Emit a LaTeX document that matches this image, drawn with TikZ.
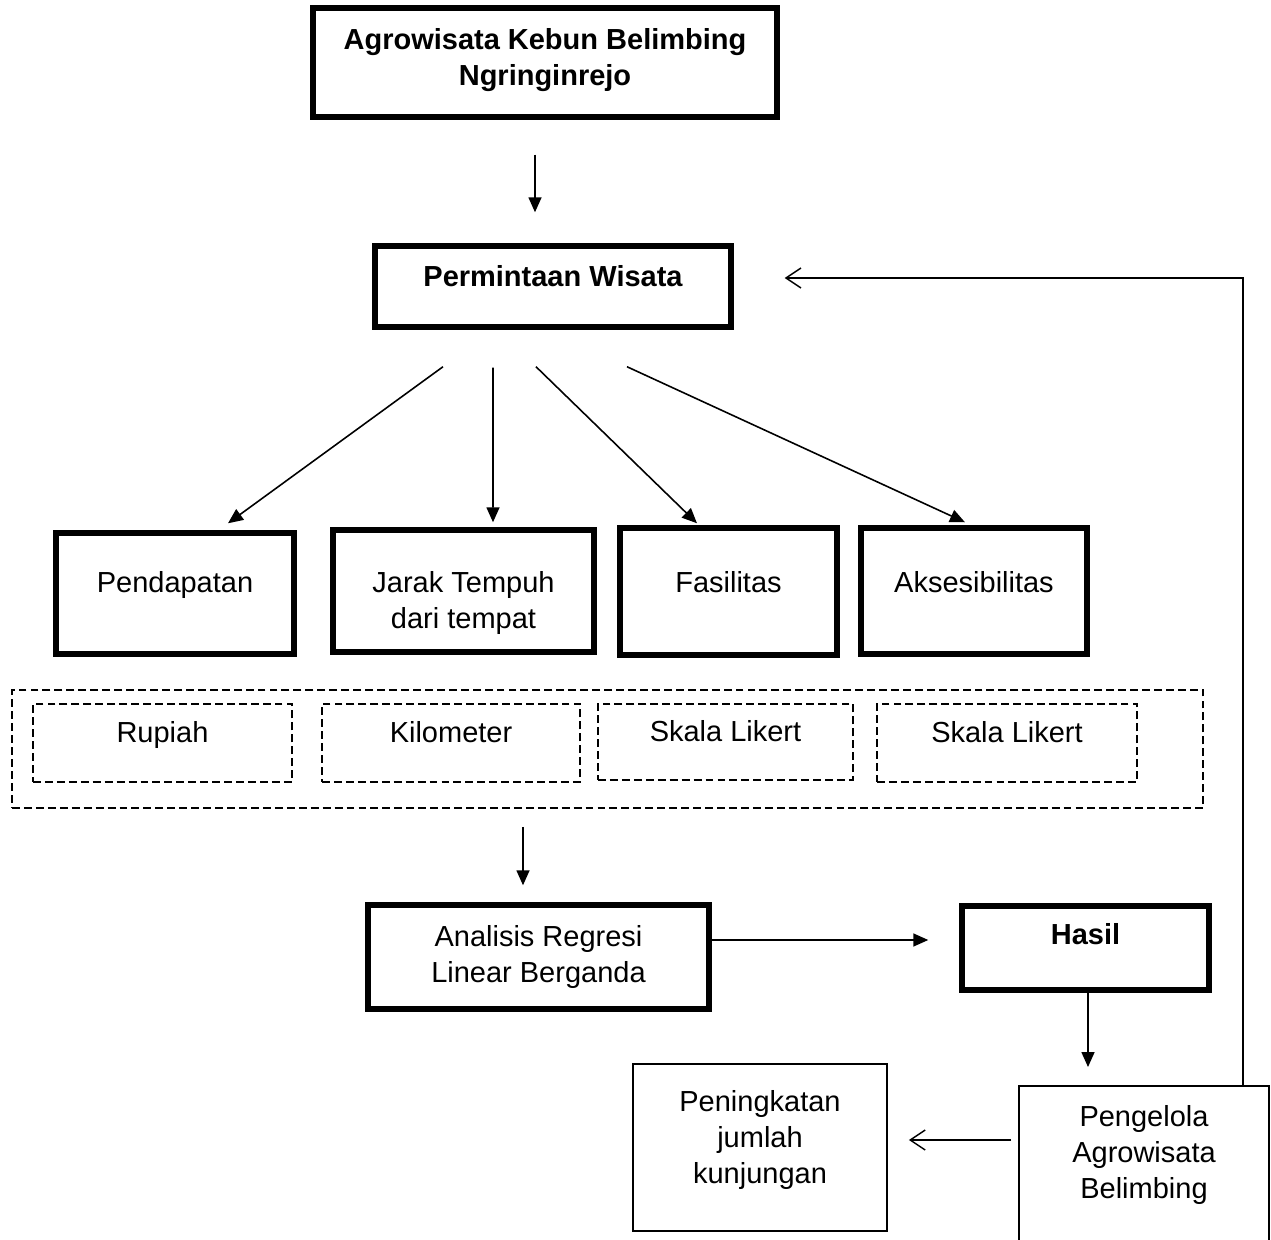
\documentclass[tikz,border=0pt]{standalone}
\usepackage{fontspec}
\setmainfont{Liberation Sans}
\usepackage{tikz}
\usetikzlibrary{positioning}
\usetikzlibrary{arrows.meta}

\begin{document}
\begin{tikzpicture}[font=\fontsize{16.5}{20.5}\selectfont,
        box/.style={draw,line width=3.1pt,inner sep=2pt,align=center},
        tipis/.style={draw,line width=1.1pt,inner sep=2pt,align=center},
        putus/.style={draw,line width=1.1pt,dash pattern=on 4.5pt off 2.3pt,inner sep=2pt,align=center},
        tebal/.style={font=\fontsize{16.5}{20.5}\selectfont\bfseries},
        panah/.style={line width=0.9pt,-{Triangle[length=0.3cm,width=0.26cm]}},
        balik/.style={line width=0.8pt,-{Straight Barb[length=0.3cm,width=0.4cm]}}]
        \useasboundingbox (0,0) rectangle (25.42,-24.8);
        \clip (0,0) rectangle (25.42,-24.8);

        \node[box,tebal,minimum width=9.28cm,minimum height=2.18cm,text depth=5.8pt] (judul) at (10.9,-1.25) {Agrowisata Kebun Belimbing\\Ngringinrejo};
        \node[box,tebal,minimum width=7.12cm,minimum height=1.62cm,text depth=12.2pt] (minta) at (11.06,-5.73) {Permintaan Wisata};

        \node[box,minimum width=4.76cm,minimum height=2.42cm,text depth=12.8pt] (pend) at (3.5,-11.87) {Pendapatan};
        \node[box,minimum width=5.22cm,minimum height=2.44cm,text height=46.6pt] (jarak) at (9.27,-11.82) {Jarak Tempuh\\dari tempat};
        \node[box,minimum width=4.34cm,minimum height=2.54cm,text depth=10.4pt] (fas) at (14.57,-11.83) {Fasilitas};
        \node[box,minimum width=4.52cm,minimum height=2.52cm,text depth=10.4pt] (aks) at (19.48,-11.82) {Aksesibilitas};

        \node[putus,minimum width=23.82cm,minimum height=2.36cm] (satuan) at (12.15,-14.98) {};
        \node[putus,minimum width=5.18cm,minimum height=1.56cm,text depth=12.8pt] (rp) at (3.25,-14.86) {Rupiah};
        \node[putus,minimum width=5.16cm,minimum height=1.56cm,text depth=12.8pt] (km) at (9.02,-14.86) {Kilometer};
        \node[putus,minimum width=5.1cm,minimum height=1.52cm,text depth=12.8pt] (likA) at (14.51,-14.84) {Skala Likert};
        \node[putus,minimum width=5.2cm,minimum height=1.56cm,text depth=12.8pt] (likB) at (20.14,-14.86) {Skala Likert};

        \node[box,minimum width=6.82cm,minimum height=2.08cm] (ana) at (10.77,-19.14) {Analisis Regresi\\Linear Berganda};
        \node[box,tebal,minimum width=4.94cm,minimum height=1.68cm,text depth=16.2pt] (hasil) at (21.71,-18.96) {Hasil};

        \node[tipis,minimum width=5.08cm,minimum height=3.34cm,text depth=11.6pt] (naik) at (15.2,-22.95) {Peningkatan\\jumlah\\kunjungan};
        \node[tipis,minimum width=5cm,minimum height=3.28cm,text depth=18.4pt] (kelola) at (22.88,-23.36) {Pengelola\\Agrowisata\\Belimbing};

        \draw[panah,shorten <=0.7cm,shorten >=0.62cm] ([xshift=-0.36cm]minta.north |- judul.south) -- ([xshift=-0.36cm]minta.north);
        \draw[panah] ([shift={(-2.2,-0.74)}]minta.south) -- ([shift={(1.06,0.14)}]pend.north);
        \draw[panah] ([shift={(-1.2,-0.76)}]minta.south) -- ([shift={(0.59,0.1)}]jarak.north);
        \draw[panah] ([shift={(-0.34,-0.74)}]minta.south) -- ([shift={(-0.63,0.04)}]fas.north);
        \draw[panah] ([shift={(1.48,-0.74)}]minta.south) -- ([shift={(-0.18,0.06)}]aks.north);
        \draw[panah,shorten <=0.36cm,shorten >=0.34cm] ([xshift=-0.31cm]ana.north |- satuan.south) -- ([xshift=-0.31cm]ana.north);
        \draw[panah,shorten >=0.62cm] ([yshift=0.34cm]ana.east) -- ([yshift=0.34cm]ana.east -| hasil.west);
        \draw[panah,shorten >=0.36cm] ([xshift=0.05cm]hasil.south) -- ([xshift=0.05cm]hasil.south |- kelola.north);
        \draw[balik,shorten <=0.14cm,shorten >=0.42cm] ([yshift=0.15cm]naik.east -| kelola.west) -- ([yshift=0.15cm]naik.east);
        \draw[balik,shorten >=1.02cm] ([xshift=1.98cm]kelola.north) |- ([yshift=0.17cm]minta.east);
\end{tikzpicture}
\end{document}
